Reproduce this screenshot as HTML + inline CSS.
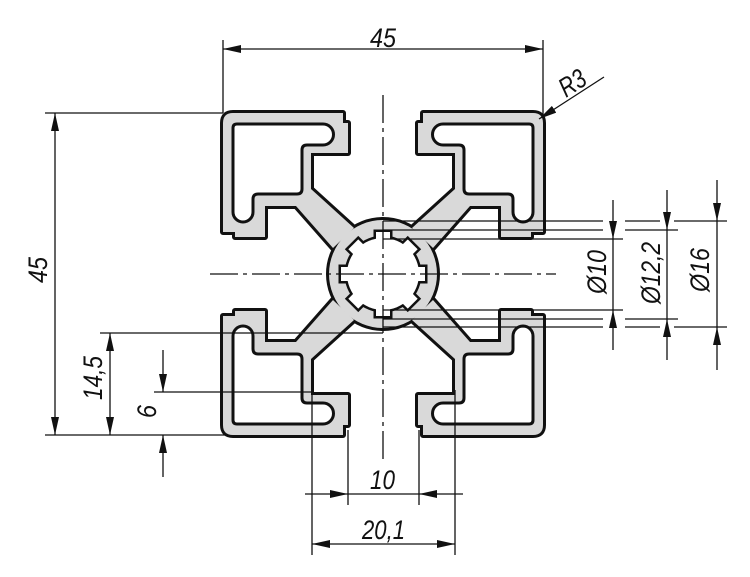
<!DOCTYPE html>
<html><head><meta charset="utf-8"><style>
html,body{margin:0;padding:0;background:#fff;}
svg{display:block;}
text{font-family:"Liberation Sans",sans-serif;font-style:italic;font-size:27px;fill:#111;}
</style></head><body>
<svg width="750" height="577" viewBox="0 0 750 577" xmlns="http://www.w3.org/2000/svg">
<defs>
<marker id="a" viewBox="0 0 18 8" refX="18" refY="4" markerWidth="18" markerHeight="8" markerUnits="userSpaceOnUse" orient="auto-start-reverse">
<path d="M0,0 L18,4 L0,8 Z" fill="#111"/>
</marker>
<path id="arm" d="M223,123 Q223,113 233,113 L343,113 L343,123 L348,123 L348,153 L311,153 L311,189 L354,228 L333,248 L296,206 L265,206 L265,237 L235,237 L235,232 L223,232 Z"/>
<path id="cav" d="M233,128 Q233,124 237,124 L323,124 A10.5,10.5 0 0 1 323,145 L307,145 Q302,145 302,150 L302,189 Q302,194 297,194 L258,194 Q253,194 253,199 L253,212 A10,10 0 0 1 233,212 Z"/>
<g id="arms">
<use href="#arm"/>
<use href="#arm" transform="translate(766,0) scale(-1,1)"/>
<use href="#arm" transform="translate(0,548) scale(1,-1)"/>
<use href="#arm" transform="translate(766,548) scale(-1,-1)"/>
<circle cx="383" cy="274" r="54"/>
</g>
<g id="cavs">
<use href="#cav"/>
<use href="#cav" transform="translate(766,0) scale(-1,1)"/>
<use href="#cav" transform="translate(0,548) scale(1,-1)"/>
<use href="#cav" transform="translate(766,548) scale(-1,-1)"/>
</g>
<g id="bore">
<circle cx="383" cy="274" r="36"/>
<g transform="translate(383,274)">
<rect x="-7" y="-42" width="14" height="10"/>
<rect x="-7" y="-42" width="14" height="10" transform="rotate(45)"/>
<rect x="-7" y="-42" width="14" height="10" transform="rotate(90)"/>
<rect x="-7" y="-42" width="14" height="10" transform="rotate(135)"/>
<rect x="-7" y="-42" width="14" height="10" transform="rotate(180)"/>
<rect x="-7" y="-42" width="14" height="10" transform="rotate(225)"/>
<rect x="-7" y="-42" width="14" height="10" transform="rotate(270)"/>
<rect x="-7" y="-42" width="14" height="10" transform="rotate(315)"/>
</g>
</g>
</defs>

<use href="#arms" fill="#111" stroke="#111" stroke-width="6" stroke-linejoin="round"/>
<use href="#arms" fill="#d9d9d9" stroke="none"/>
<use href="#cavs" fill="#fff" stroke="#111" stroke-width="3"/>
<use href="#bore" fill="#111" stroke="#111" stroke-width="5"/>
<use href="#bore" fill="#fff" stroke="none"/>

<g stroke="#111" stroke-width="1.3" fill="none">
<line x1="210" y1="274" x2="556" y2="274" stroke-dasharray="28 5 4 5"/>
<line x1="383" y1="95" x2="383" y2="462" stroke-dasharray="28 5 4 5"/>

<line x1="223" y1="40" x2="223" y2="113"/>
<line x1="543" y1="40" x2="543" y2="118"/>
<line x1="223" y1="49" x2="543" y2="49" marker-start="url(#a)" marker-end="url(#a)"/>

<line x1="604" y1="77" x2="539" y2="119" marker-end="url(#a)"/>

<line x1="45" y1="113" x2="223" y2="113"/>
<line x1="45" y1="435" x2="228" y2="435"/>
<line x1="55" y1="113" x2="55" y2="435" marker-start="url(#a)" marker-end="url(#a)"/>

<line x1="100" y1="333" x2="383" y2="333"/>
<line x1="110" y1="333" x2="110" y2="435" marker-start="url(#a)" marker-end="url(#a)"/>

<line x1="154" y1="392" x2="312" y2="392"/>
<line x1="163" y1="350" x2="163" y2="392" marker-end="url(#a)"/>
<line x1="163" y1="477" x2="163" y2="435" marker-end="url(#a)"/>

<line x1="383" y1="221" x2="603" y2="221"/><line x1="625" y1="221" x2="660" y2="221"/><line x1="674" y1="221" x2="727" y2="221"/>
<line x1="383" y1="230" x2="603" y2="230"/><line x1="625" y1="230" x2="678" y2="230"/>
<line x1="383" y1="239" x2="623" y2="239"/>
<line x1="383" y1="310" x2="623" y2="310"/>
<line x1="383" y1="319" x2="603" y2="319"/><line x1="625" y1="319" x2="678" y2="319"/>
<line x1="383" y1="327" x2="603" y2="327"/><line x1="625" y1="327" x2="660" y2="327"/><line x1="674" y1="327" x2="727" y2="327"/>

<line x1="613" y1="200" x2="613" y2="239" marker-end="url(#a)"/>
<line x1="613" y1="239" x2="613" y2="310"/>
<line x1="613" y1="350" x2="613" y2="310" marker-end="url(#a)"/>
<line x1="667" y1="190" x2="667" y2="230" marker-end="url(#a)"/>
<line x1="667" y1="230" x2="667" y2="319"/>
<line x1="667" y1="360" x2="667" y2="319" marker-end="url(#a)"/>
<line x1="717" y1="180" x2="717" y2="221" marker-end="url(#a)"/>
<line x1="717" y1="221" x2="717" y2="327"/>
<line x1="717" y1="370" x2="717" y2="327" marker-end="url(#a)"/>

<line x1="348" y1="430" x2="348" y2="505"/>
<line x1="419" y1="430" x2="419" y2="505"/>
<line x1="305" y1="494" x2="348" y2="494" marker-end="url(#a)"/>
<line x1="348" y1="494" x2="419" y2="494"/>
<line x1="463" y1="494" x2="419" y2="494" marker-end="url(#a)"/>

<line x1="312" y1="390" x2="312" y2="555"/>
<line x1="455" y1="390" x2="455" y2="555"/>
<line x1="312" y1="544" x2="455" y2="544" marker-start="url(#a)" marker-end="url(#a)"/>
</g>

<text x="370" y="47" textLength="26" lengthAdjust="spacingAndGlyphs">45</text>
<text transform="translate(47,283) rotate(-90)" textLength="26" lengthAdjust="spacingAndGlyphs">45</text>
<text transform="translate(102,400) rotate(-90)" textLength="44" lengthAdjust="spacingAndGlyphs">14,5</text>
<text transform="translate(156,418) rotate(-90)" textLength="13" lengthAdjust="spacingAndGlyphs">6</text>
<text transform="translate(606,294) rotate(-90)" textLength="44" lengthAdjust="spacingAndGlyphs">Ø10</text>
<text transform="translate(660,304) rotate(-90)" textLength="62" lengthAdjust="spacingAndGlyphs">Ø12,2</text>
<text transform="translate(709,292) rotate(-90)" textLength="44" lengthAdjust="spacingAndGlyphs">Ø16</text>
<text transform="translate(566,98) rotate(-33)" textLength="27" lengthAdjust="spacingAndGlyphs">R3</text>
<text x="370" y="489" textLength="25" lengthAdjust="spacingAndGlyphs">10</text>
<text x="362" y="539" textLength="43" lengthAdjust="spacingAndGlyphs">20,1</text>
</svg>
</body></html>
